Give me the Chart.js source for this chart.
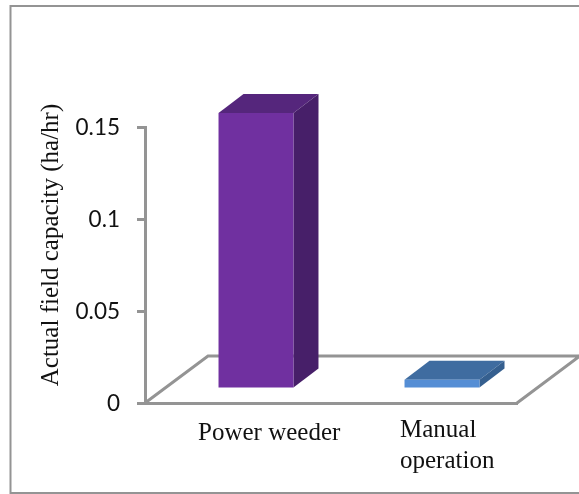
<!DOCTYPE html>
<html>
<head>
<meta charset="utf-8">
<style>
  html, body { margin: 0; padding: 0; background: #fff; overflow: hidden; }
  canvas { display: block; }
</style>
<script src="https://cdn.jsdelivr.net/npm/chart.js@4"></script>
</head>
<body>
<canvas id="chart" width="579" height="494"></canvas>
<script>
const categories = ['Power weeder', 'Manual operation'];
const categoryLines = [['Power weeder'], ['Manual', 'operation']];
const fieldCapacity = [0.15, 0.005];
const tickLabels = ['0', '0.05', '0.1', '0.15'];
const axisTitle = 'Actual field capacity (ha/hr)';

const frontColors = ['#7030a0', '#558ed5'];
const topColors = ['#55267c', '#3f6ca0'];
const sideColors = ['#471f69', '#355f8f'];
const gray = '#949494';

// bars stand part way back on the floor, so everything is shifted along the depth
const barShift = { x: 18, y: -14 };
const barDepth = { x: 25, y: -19 };
const floorDepth = { x: 63, y: -47 };

const serif = '"Liberation Serif", serif';

const fake3d = {
  id: 'fake3d',
  beforeDraw(chart) {
    // outer frame, its right edge falls off the picture
    const c = chart.ctx;
    c.save();
    c.strokeStyle = gray;
    c.lineWidth = 2;
    c.strokeRect(10.5, 6, 600, 487);
    c.restore();
  },
  beforeDatasetsDraw(chart) {
    // floor behind the bars
    const c = chart.ctx;
    const a = chart.chartArea;
    c.save();
    c.strokeStyle = gray;
    c.lineWidth = 3;
    c.beginPath();
    c.moveTo(a.left, a.bottom);
    c.lineTo(a.left + floorDepth.x, a.bottom + floorDepth.y);
    c.lineTo(a.right + floorDepth.x, a.bottom + floorDepth.y);
    c.lineTo(a.right, a.bottom);
    c.stroke();
    c.restore();
  },
  beforeDatasetDraw(chart, args) {
    const c = chart.ctx;
    c.save();
    c.translate(barShift.x, barShift.y);
    args.meta.data.forEach((bar, i) => {
      const l = bar.x - bar.width / 2;
      const r = bar.x + bar.width / 2;
      const t = bar.y;
      const b = bar.base;
      // top face
      c.fillStyle = topColors[i];
      c.beginPath();
      c.moveTo(l, t);
      c.lineTo(l + barDepth.x, t + barDepth.y);
      c.lineTo(r + barDepth.x, t + barDepth.y);
      c.lineTo(r, t);
      c.closePath();
      c.fill();
      // side face
      c.fillStyle = sideColors[i];
      c.beginPath();
      c.moveTo(r, t);
      c.lineTo(r + barDepth.x, t + barDepth.y);
      c.lineTo(r + barDepth.x, b + barDepth.y);
      c.lineTo(r, b);
      c.closePath();
      c.fill();
    });
  },
  afterDatasetDraw(chart) {
    chart.ctx.restore();
  },
  afterDraw(chart) {
    // category labels are left aligned per block, and the axis title sits above centre
    const c = chart.ctx;
    const x = chart.scales.x;
    const y = chart.scales.y;
    c.save();
    c.fillStyle = '#111';
    c.font = '25px ' + serif;
    c.textAlign = 'left';
    c.textBaseline = 'alphabetic';
    const nudge = [-40, -24];
    const firstLine = [440, 437];
    categoryLines.forEach((lines, i) => {
      lines.forEach((line, j) => {
        c.fillText(line, x.getPixelForValue(i) + nudge[i], firstLine[i] + j * 31);
      });
    });
    c.translate(58, (y.top + y.bottom) / 2 - 20);
    c.rotate(-Math.PI / 2);
    c.textAlign = 'center';
    c.fillText(axisTitle, 0, 0);
    c.restore();
  }
};

new Chart(document.getElementById('chart'), {
  type: 'bar',
  data: {
    labels: categories,
    datasets: [{
      data: fieldCapacity,
      backgroundColor: frontColors,
      borderWidth: 0,
      categoryPercentage: 1,
      barPercentage: 0.403,
      clip: false
    }]
  },
  options: {
    responsive: false,
    animation: false,
    devicePixelRatio: 1,
    layout: { padding: { top: 127, right: 62, left: 0, bottom: 0 } },
    plugins: { legend: { display: false }, title: { display: false }, tooltip: { enabled: false } },
    scales: {
      x: {
        grid: { display: false },
        border: { color: gray, width: 3 },
        ticks: { display: false },
        afterFit(s) { s.height = 91; }
      },
      y: {
        min: 0,
        max: 0.15,
        afterFit(s) { s.width = 145; },
        afterBuildTicks(s) { s.ticks = tickLabels.map((t) => ({ value: Number(t) })); },
        border: { color: gray, width: 3 },
        grid: { drawOnChartArea: false, color: gray, lineWidth: 3, tickLength: 8 },
        ticks: {
          padding: 17,
          labelOffset: 1,
          color: '#111',
          font: { family: 'Lato', size: 22.5 },
          callback: (v, i) => tickLabels[i]
        }
      }
    }
  },
  plugins: [fake3d]
});
</script>
</body>
</html>
